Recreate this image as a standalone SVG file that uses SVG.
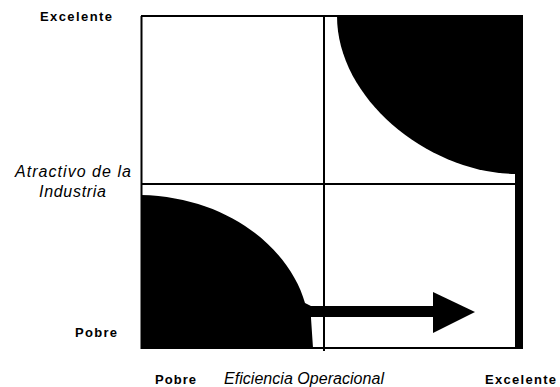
<svg xmlns="http://www.w3.org/2000/svg" width="560" height="387" viewBox="0 0 560 387">
<style>
.lbl{font-family:"Liberation Sans",Arial,sans-serif;font-weight:bold;font-size:13px;fill:#000}
.ax{font-family:"Liberation Sans",Arial,sans-serif;font-style:italic;font-size:16px;fill:#000}
.ln{stroke:#000;stroke-width:2;fill:none}
.blk{fill:#000;stroke:none}
</style>
<rect width="560" height="387" fill="#fff"/>
<g id="regions">
<path class="blk" d="M337,16 L515,16 L515,174 C430,173 337,100 337,16 Z"/>
<path class="blk" d="M141,195 C230,197 290,250 305,303 L311,306 L311,318 L313,348 L141,348 Z"/>
</g>
<g id="frame">
<line class="ln" x1="141" y1="16" x2="523" y2="16"/>
<line class="ln" x1="141.5" y1="16" x2="141.5" y2="349"/>
<line class="ln" x1="141" y1="348" x2="523" y2="348"/>
<rect class="blk" x="515" y="16" width="8" height="333"/>
<line class="ln" x1="324" y1="16" x2="324" y2="351"/>
<line class="ln" x1="141" y1="184" x2="515" y2="184"/>
</g>
<g id="connectors">
<rect class="blk" x="305" y="306" width="130" height="11"/>
<polygon class="blk" points="433,292 475,312 433,333"/>
</g>
<g id="labels">
<text class="lbl" x="40" y="21" textLength="72" lengthAdjust="spacing">Excelente</text>
<text class="ax" x="15" y="177" textLength="116" lengthAdjust="spacing">Atractivo de la</text>
<text class="ax" x="39" y="197" textLength="67" lengthAdjust="spacing">Industria</text>
<text class="lbl" x="75" y="337" textLength="42" lengthAdjust="spacing">Pobre</text>
<text class="lbl" x="155" y="384" textLength="41" lengthAdjust="spacing">Pobre</text>
<text class="ax" x="224" y="384" textLength="160" lengthAdjust="spacing">Eficiencia Operacional</text>
<text class="lbl" x="485" y="384" textLength="71" lengthAdjust="spacing">Excelente</text>
</g>
</svg>
